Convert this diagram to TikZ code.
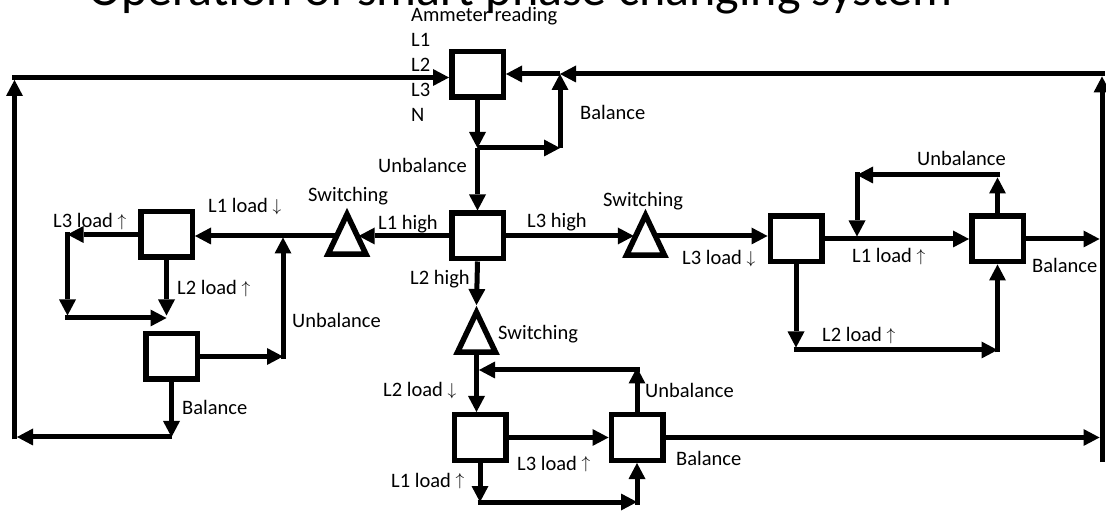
\documentclass[tikz,border=0pt]{standalone}
\usepackage{fontspec}
\setmainfont{Carlito}
\newcommand\arrowup{\raisebox{1.5pt}{\fontsize{17}{20}\selectfont$\uparrow$}}
\newcommand\arrowdown{\raisebox{1.5pt}{\fontsize{17}{20}\selectfont$\downarrow$}}
\usetikzlibrary{arrows.meta,shapes.geometric}

\begin{document}
\begin{tikzpicture}[x=1pt,y=-1pt,
  box/.style={draw, line width=5.5pt, minimum width=51.5pt, minimum height=45.5pt, inner sep=0pt},
  tri/.style={draw, line width=5.5pt, isosceles triangle, isosceles triangle stretches,
              shape border rotate=90, minimum width=38pt, minimum height=40pt, inner sep=0pt,
              anchor=south},
  arr/.style={line width=5pt, -{Triangle[length=16pt,width=17pt,line width=0pt]}},
  lbl/.style={anchor=base west, inner sep=0pt, font=\fontsize{20.5}{25}\selectfont},
]
\useasboundingbox (0,0) rectangle (1106,518);
\clip (0,0) rectangle (1106,518);
\fill[white] (0,0) rectangle (1106,518);

% heading
\node[anchor=base west, inner sep=0pt, font=\fontsize{50}{60}\selectfont] (title) at (88,6)
  {Operation of smart phase changing system};

% ammeter inputs
\node[lbl] (meter) at (411,21.5) {Ammeter reading};
\node[lbl] (inL1) at (411,46.5) {L1};
\node[lbl] (inL2) at (411,71.5) {L2};
\node[lbl] (inL3) at (411,96.5) {L3};
\node[lbl] (inN)  at (411,121.5) {N};

% decision boxes
\node[box] (A)  at (477.5,74.5) {};
\node[box] (M)  at (477.5,236) {};
\node[box] (B1) at (166.5,234.5) {};
\node[box] (B2) at (171.5,356.5) {};
\node[box] (R1) at (796,239) {};
\node[box] (R2) at (997.5,239) {};
\node[box] (B3) at (480,437.5) {};
\node[box] (B4) at (637,437.5) {};

% switching units (placed by the middle of the base)
\node[tri] (TL) at (347,257) {};
\node[tri] (TR) at (645.5,258) {};
\node[tri] (TB) at (476.5,355) {};

% routing points
\coordinate (J1) at (477.5,148);
\coordinate (J2) at (560,148);
\coordinate (J3) at (560,74);
\coordinate (TRc) at (1102,74);
\coordinate (BRc) at (1102,462);
\coordinate (TLc) at (14.5,77.5);
\coordinate (BLc) at (14.5,437);
\coordinate (C1) at (67.5,318);
\coordinate (C2) at (283,356.5);
\coordinate (C3) at (283,237.5);
\coordinate (C4) at (857,175);
\coordinate (C5) at (800,350);
\coordinate (C6) at (476.5,370);
\coordinate (C7) at (480,502);
\coordinate (RE) at (1099.5,239);

% measurement loop
\draw[arr] (A.south) -- (J1);
\draw[arr] (J1) -- (M.north);
\draw[arr] (J1) -- (J2);
\draw[arr] (J2) -- (J3);
\draw[arr] (J3) -- (J3 -| A.east);
\draw[arr] ([xshift=2.5pt]TRc) -- (J3);
\draw[arr] (BRc) -- ([yshift=-2.5pt]TRc);
\draw[arr] ([xshift=-2.5pt]TLc) -- (TLc -| A.west);
\draw[arr] ([yshift=-2.5pt]BLc) -- ([yshift=-2.5pt]TLc);

% L1 high branch
\draw[arr] (M.west) -- (M.west -| TL.right side);
\draw[arr] (TL.left side |- M.west) -- (M.west -| B1.east);
\draw[arr] (B1.west) -- (B1.west -| C1);
\draw[arr] ([yshift=2.5pt]B1.west -| C1) -- ([yshift=2.5pt]C1);
\draw[arr] ([xshift=-2.5pt]C1) -- (C1 -| B1.south);
\draw[arr] (B1.south) -- ([yshift=2.5pt]C1 -| B1.south);
\draw[arr] (B2.east) -- (B2.east -| C2);
\draw[arr] ([yshift=-2.5pt]B2.east -| C2) -- (C3);
\draw[arr] (B2.south) -- (B2.south |- BLc);
\draw[arr] (B2.south |- BLc) -- ([xshift=2.5pt]BLc);

% L3 high branch
\draw[arr] (M.east) -- (M.east -| TR.left side);
\draw[arr] (TR.right side |- M.east) -- (M.east -| R1.west);
\draw[arr] (R1.east) -- (R2.west);
\draw[arr] (R2.north) -- ([yshift=-2.5pt]C4 -| R2.north);
\draw[arr] ([xshift=2.5pt]C4 -| R2.north) -- (C4);
\draw[arr] ([yshift=2.5pt]C4) -- ([yshift=2.5pt]C4 |- R1.east);
\draw[arr] (R1.south) -- ([yshift=2.5pt]C5 -| R1.south);
\draw[arr] ([xshift=-2.5pt]C5 -| R1.south) -- (C5 -| R2.south);
\draw[arr] ([yshift=-2.5pt]C5 -| R2.south) -- (R2.south);
\draw[arr] (R2.east) -- (R2.east -| RE);

% L2 high branch
\draw[arr] (M.south) -- (TB.apex);
\draw[arr] (TB.south) -- (TB.south |- B3.north);
\draw[arr] (B4.north) -- ([yshift=2.5pt]C6 -| B4.north);
\draw[arr] ([xshift=2.5pt]C6 -| B4.north) -- ([xshift=2.5pt]C6);
\draw[arr] (B3.east) -- (B4.west);
\draw[arr] (B3.south) -- (C7 -| B3.south);
\draw[arr] ([xshift=-2.5pt]C7 -| B3.south) -- (C7 -| B4.south);
\draw[arr] ([yshift=-2.5pt]C7 -| B4.south) -- (B4.south);
\draw[arr] (B4.east) -- (B4.east -| RE);

% labels
\node[lbl] (lBalTop) at (580,120) {Balance};
\node[lbl] (lUnbTop) at (378,173) {Unbalance};
\node[lbl] (lSwL) at (308,202) {Switching};
\node[lbl] (lL1h) at (378,230) {L1 high};
\node[lbl] (lL3h) at (527,228) {L3 high};
\node[lbl] (lSwR) at (603,207) {Switching};
\node[lbl] (lL2h) at (410,285) {L2 high};
\node[lbl] (lSwB) at (498,340) {Switching};
\node[lbl] (lL1d) at (208,213) {L1 load \arrowdown};
\node[lbl] (lL3u) at (53,228) {L3 load \arrowup};
\node[lbl] (lL2u) at (177,295) {L2 load \arrowup};
\node[lbl] (lUnbL) at (292,328) {Unbalance};
\node[lbl] (lBalL) at (182,415) {Balance};
\node[lbl] (lL3d) at (682,265) {L3 load \arrowdown};
\node[lbl] (lL1uR) at (852,263) {L1 load \arrowup};
\node[lbl] (lUnbR) at (917,166) {Unbalance};
\node[lbl] (lL2uR) at (822,342) {L2 load \arrowup};
\node[lbl] (lBalR) at (1032,273) {Balance};
\node[lbl] (lL2d) at (383,397) {L2 load \arrowdown};
\node[lbl] (lUnbB) at (645,398) {Unbalance};
\node[lbl] (lL3uB) at (517,470) {L3 load \arrowup};
\node[lbl] (lBalB) at (676,465) {Balance};
\node[lbl] (lL1uB) at (391,487) {L1 load \arrowup};
\end{tikzpicture}
\end{document}
